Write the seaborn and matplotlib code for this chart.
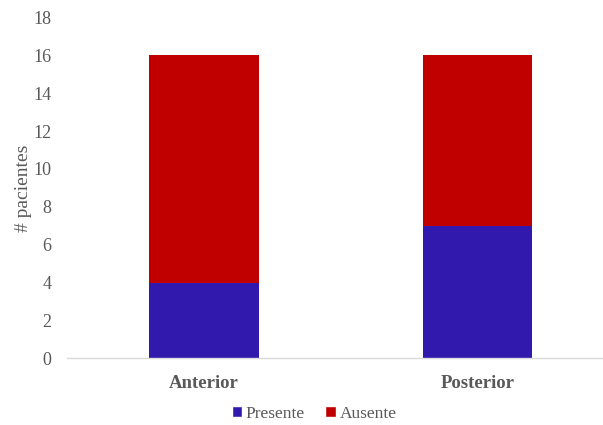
import matplotlib
matplotlib.use("Agg")
import matplotlib.pyplot as plt
from matplotlib.patches import Patch
import seaborn as sns
import pandas as pd
import numpy as np

categories = ["Anterior", "Posterior"]
presente = [4, 7]
ausente = [12, 9]
series_names = ["Presente", "Ausente"]
yticks = [0, 2, 4, 6, 8, 10, 12, 14, 16, 18]

BLUE = "#3219AD"
RED = "#C00000"
GRAY = "#595959"

sns.set_theme(style="white")
plt.rcParams["font.family"] = ["Liberation Serif", "DejaVu Serif"]

df = pd.DataFrame({
    "cat": categories,
    "Presente": presente,
    "Ausente": ausente,
})
df["total"] = df["Presente"] + df["Ausente"]

fig = plt.figure(figsize=(6.03, 4.25), dpi=100)
ax = fig.add_axes([67 / 603, (425 - 358.3) / 425, 1 - 67 / 603, (358.3 - 17.4) / 425])

sns.barplot(data=df, x="cat", y="total", color=RED, saturation=1, width=0.4, ax=ax)
sns.barplot(data=df, x="cat", y="Presente", color=BLUE, saturation=1, width=0.4, ax=ax)
for p in ax.patches:
    p.set_edgecolor("none")

ax.set_xlim(-0.5, (603 - 203.5) / 274)
ax.set_ylim(0, 18)
ax.set_yticks(yticks)
ax.set_yticklabels([str(v) for v in yticks], fontsize=13, color=GRAY)
ax.set_xticks(range(len(categories)))
ax.set_xticklabels(categories, fontsize=13.5, fontweight="bold", color=GRAY)
ax.tick_params(axis="both", length=0)
ax.tick_params(axis="y", pad=11)
ax.tick_params(axis="x", pad=12)
ax.set_xlabel("")
ax.set_ylabel("# pacientes", fontsize=14, color=GRAY)
ax.yaxis.label.set_va("center")
ax.yaxis.set_label_coords(-(67 - 24) / (603 - 67), 0.5)

for s in ["top", "right", "left"]:
    ax.spines[s].set_visible(False)
ax.spines["bottom"].set_color("#D9D9D9")
ax.spines["bottom"].set_linewidth(1)
ax.grid(False)

handles = [Patch(facecolor=BLUE, label=series_names[0]),
           Patch(facecolor=RED, label=series_names[1])]
fig.legend(handles=handles, loc="center", bbox_to_anchor=(314 / 603, 1 - 414 / 425),
           ncol=2, frameon=False, fontsize=12.5, labelcolor=GRAY,
           handlelength=0.6, handleheight=0.6, handletextpad=0.2, columnspacing=1.2)

fig.savefig("out.png", dpi=100)
